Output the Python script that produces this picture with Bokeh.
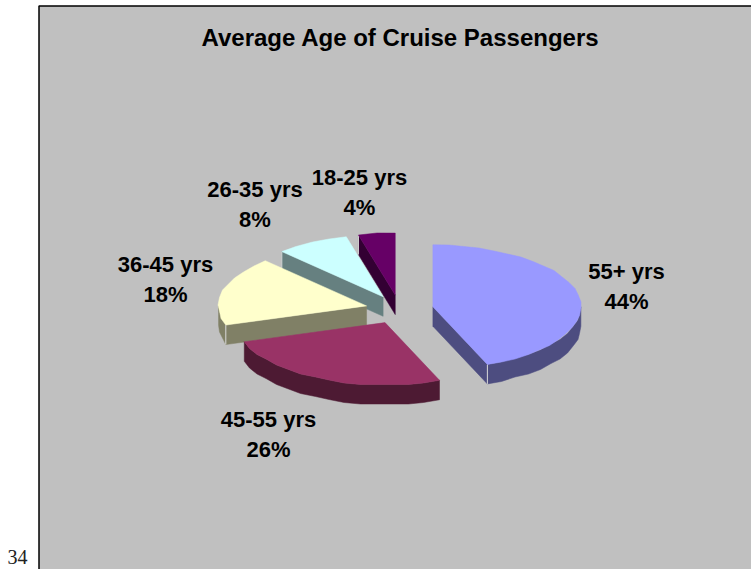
import numpy as np
from bokeh.plotting import figure
from bokeh.core.properties import value
from bokeh.embed import file_html
from bokeh.resources import INLINE

# Chart data
categories = ["55+ yrs", "45-55 yrs", "36-45 yrs", "26-35 yrs", "18-25 yrs"]
shares = [44, 26, 18, 8, 4]
top_colors = ["#9999FF", "#993366", "#FFFFCC", "#CCFFFF", "#660066"]
side_colors = ["#4D4D80", "#4D1A33", "#808066", "#668080", "#330033"]
title = "Average Age of Cruise Passengers"
row_number = "34"

# Label centres, in page pixels
label_x = [626, 268, 165, 254.5, 359]
label_y = [271, 419, 264, 189, 177]
line_gap = 30

# Projection of the tilted pie, in page pixels
CX, CY = 399, 309
RX, RY = 148, 62
EX, EY = 34, 14.5
DEPTH = 19.5
PANEL_LEFT, PANEL_TOP = 38.5, 5.5
FACET_DEG = 6
SNAP = 1.5

W, H = 751, 569
p = figure(width=W, height=H, x_range=(0, W), y_range=(H, 0),
           output_backend="svg", toolbar_location=None, min_border=0,
           background_fill_color="white", border_fill_color="white",
           outline_line_color=None)
p.axis.visible = False
p.grid.visible = False

# Panel behind the chart; its right and bottom sides run off the page
p.quad(left=[PANEL_LEFT], right=[W + 5], top=[PANEL_TOP], bottom=[H + 5],
       fill_color="#C0C0C0", line_color="black", line_width=1.5)


def rim(ax, ay, angles):
    return ax + RX * np.sin(angles), ay - RY * np.cos(angles)


def arc(ax, ay, a, b):
    # Coarse facets snapped to a small grid give the rim its stepped outline
    n = max(2, int(np.degrees(b - a) / FACET_DEG) + 1)
    x, y = rim(ax, ay, np.linspace(a, b, n))
    x[1:-1] = np.round(x[1:-1] / SNAP) * SNAP
    y[1:-1] = np.round(y[1:-1] / SNAP) * SNAP
    return x, y


edges = np.radians(np.concatenate([[0], np.cumsum(shares)]) * 3.6)
slices = []
for i in range(len(shares)):
    t0, t1 = edges[i], edges[i + 1]
    mid = (t0 + t1) / 2
    slices.append((i, t0, t1, CX + EX * np.sin(mid), CY - EY * np.cos(mid)))

# Paint from the back of the pie to the front
for i, t0, t1, ax, ay in sorted(slices, key=lambda s: -np.cos((s[1] + s[2]) / 2) + (s[0] == 0) * 9):
    # Outer wall, where the rim faces the viewer
    a, b = max(t0, np.pi / 2), min(t1, 3 * np.pi / 2)
    if a < b:
        x, y = arc(ax, ay, a, b)
        p.patch(np.r_[x, x[::-1]], np.r_[y, y[::-1] + DEPTH],
                fill_color=side_colors[i], line_color=side_colors[i], line_width=0.5)
    # Cut faces turned towards the viewer
    for t, visible in ((t0, np.sin(t0) < -1e-9), (t1, np.sin(t1) > 1e-9)):
        if visible:
            ex, ey = rim(ax, ay, t)
            p.patch([ax, ex, ex, ax], [ay, ey, ey + DEPTH, ay + DEPTH],
                    fill_color=side_colors[i], line_color=side_colors[i], line_width=0.5)
            p.line([ex, ex], [ey, ey + DEPTH], line_color="#D9D9D9", line_width=1)
    # Top face
    x, y = arc(ax, ay, t0, t1)
    p.patch(np.r_[ax, x], np.r_[ay, y], fill_color=top_colors[i],
            line_color=top_colors[i], line_width=0.5)

font = value("Liberation Sans")
p.text(x=[400], y=[37], text=[title], text_font=font, text_font_style="bold",
       text_font_size="24px", text_align="center", text_baseline="middle", text_color="black")
p.text(x=label_x, y=label_y, text=categories, text_font=font, text_font_style="bold",
       text_font_size="22px", text_align="center", text_baseline="middle", text_color="black")
p.text(x=label_x, y=[v + line_gap for v in label_y], text=[f"{s}%" for s in shares],
       text_font=font, text_font_style="bold", text_font_size="22px",
       text_align="center", text_baseline="middle", text_color="black")
p.text(x=[7], y=[556], text=[row_number], text_font=value("Liberation Serif"),
       text_font_size="20px", text_align="left", text_baseline="middle", text_color="#222222")

open("out.html", "w").write(file_html(p, INLINE))
